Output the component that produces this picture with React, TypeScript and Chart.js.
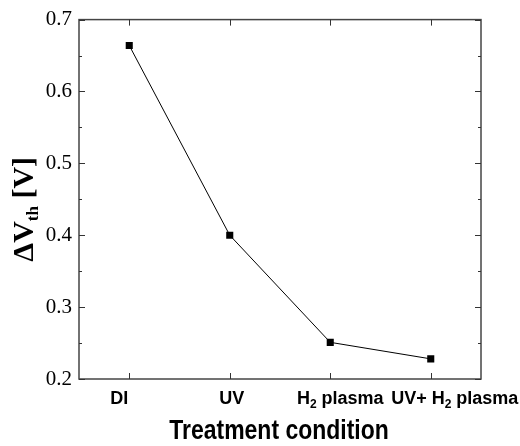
import React, { useEffect, useRef } from 'react';
import { Chart, registerables } from 'chart.js';

Chart.register(...registerables);

const categories = ['DI', 'UV', 'H₂ plasma', 'UV+ H₂ plasma'];
const deltaVth = [0.664, 0.4, 0.251, 0.228];
const yMajorTicks = [0.2, 0.3, 0.4, 0.5, 0.6, 0.7];
const yMinorTicks = [0.25, 0.35, 0.45, 0.55, 0.65];
const xTitle = 'Treatment condition';
const yTitle = 'ΔVₜₕ [V]';

const SUB: Record<string, string> = { '₂': '2', 'ₜ': 't', 'ₕ': 'h' };
// small horizontal nudges of the category labels, as in the original figure
const LABEL_NUDGE = [-10, 2, 10, 24];

type Seg = { text: string; sub: boolean };
function segments(text: string): Seg[] {
  const out: Seg[] = [];
  for (const ch of text) {
    const sub = ch in SUB;
    const c = sub ? SUB[ch] : ch;
    const last = out[out.length - 1];
    if (last && last.sub === sub) last.text += c;
    else out.push({ text: c, sub });
  }
  return out;
}

function drawRich(
  ctx: CanvasRenderingContext2D,
  text: string,
  x: number,
  y: number,
  mainFont: string,
  subFont: string,
  subShift: number
) {
  const segs = segments(text);
  let total = 0;
  const widths = segs.map((s) => {
    ctx.font = s.sub ? subFont : mainFont;
    const w = ctx.measureText(s.text).width;
    total += w;
    return w;
  });
  let cx = x - total / 2;
  ctx.textAlign = 'left';
  ctx.textBaseline = 'middle';
  segs.forEach((s, i) => {
    ctx.font = s.sub ? subFont : mainFont;
    ctx.fillText(s.text, cx, s.sub ? y + subShift : y);
    cx += widths[i];
  });
}

const framePlugin = {
  id: 'framePlugin',
  afterDraw(chart: any) {
    const ctx: CanvasRenderingContext2D = chart.ctx;
    const { left, right, top, bottom } = chart.chartArea;
    const xs = chart.scales.x;
    const ys = chart.scales.y;
    ctx.save();
    // frame
    ctx.strokeStyle = '#444';
    ctx.lineWidth = 1.5;
    ctx.strokeRect(left, top, right - left, bottom - top);
    // inward ticks on all four sides
    ctx.lineWidth = 1;
    ctx.strokeStyle = '#333';
    ctx.beginPath();
    const yTick = (v: number, len: number) => {
      const py = Math.round(ys.getPixelForValue(v)) + 0.5;
      ctx.moveTo(left, py);
      ctx.lineTo(left + len, py);
      ctx.moveTo(right, py);
      ctx.lineTo(right - len, py);
    };
    yMajorTicks.forEach((v) => yTick(v, 6));
    yMinorTicks.forEach((v) => yTick(v, 3));
    categories.forEach((_, i) => {
      const px = Math.round(xs.getPixelForTick(i)) + 0.5;
      ctx.moveTo(px, bottom);
      ctx.lineTo(px, bottom - 6);
      ctx.moveTo(px, top);
      ctx.lineTo(px, top + 6);
    });
    ctx.stroke();

    // x tick labels
    ctx.fillStyle = '#000';
    categories.forEach((c, i) => {
      const px = xs.getPixelForTick(i) + (LABEL_NUDGE[i] || 0);
      drawRich(
        ctx,
        c,
        px,
        bottom + 20,
        'bold 18px "Liberation Sans", Arial, sans-serif',
        'bold 12px "Liberation Sans", Arial, sans-serif',
        6
      );
    });

    // x title (condensed bold sans)
    ctx.save();
    ctx.translate((left + right) / 2 - 1, bottom + 52);
    ctx.scale(0.82, 1);
    ctx.font = 'bold 28px "Liberation Sans", Arial, sans-serif';
    ctx.textAlign = 'center';
    ctx.textBaseline = 'middle';
    ctx.fillText(xTitle, 0, 0);
    ctx.restore();

    // y title
    ctx.translate(25, (top + bottom) / 2 + 10);
    ctx.rotate(-Math.PI / 2);
    drawRich(
      ctx,
      yTitle,
      0,
      0,
      'bold 30px "Liberation Serif", "Times New Roman", serif',
      'bold 17px "Liberation Serif", "Times New Roman", serif',
      9
    );
    ctx.restore();
  },
};

export default function App() {
  const canvasRef = useRef<HTMLCanvasElement | null>(null);

  useEffect(() => {
    if (!canvasRef.current) return;
    const chart = new Chart(canvasRef.current, {
      type: 'line',
      data: {
        labels: categories,
        datasets: [
          {
            label: 'ΔVth',
            data: deltaVth,
            borderColor: '#000',
            backgroundColor: '#000',
            borderWidth: 1,
            pointStyle: 'rect',
            pointRadius: 5,
            pointBorderWidth: 0,
            tension: 0,
          },
        ],
      },
      options: {
        animation: false,
        responsive: false,
        layout: { padding: { top: 19, right: 39, left: 0, bottom: 0 } },
        plugins: {
          legend: { display: false },
          tooltip: { enabled: false },
        },
        scales: {
          x: {
            type: 'category',
            offset: true,
            grid: { display: false },
            border: { display: false },
            ticks: { display: false },
            title: { display: false, text: xTitle },
            afterFit: (s: any) => {
              s.height = 67;
            },
          },
          y: {
            min: 0.2,
            max: 0.7,
            grid: { display: false, drawTicks: false },
            border: { display: false },
            ticks: {
              stepSize: 0.1,
              padding: 7,
              color: '#000',
              font: { family: '"Liberation Serif", "Times New Roman", serif', size: 21 },
              callback: (v: any) => Number(v).toFixed(1),
            },
            afterFit: (s: any) => {
              s.width = 79;
            },
          },
        },
      },
      plugins: [framePlugin],
    });
    return () => chart.destroy();
  }, []);

  return (
    <div style={{ position: 'absolute', left: 0, top: 0, width: 520, height: 446, background: '#fff' }}>
      <canvas ref={canvasRef} width={520} height={446} />
    </div>
  );
}
